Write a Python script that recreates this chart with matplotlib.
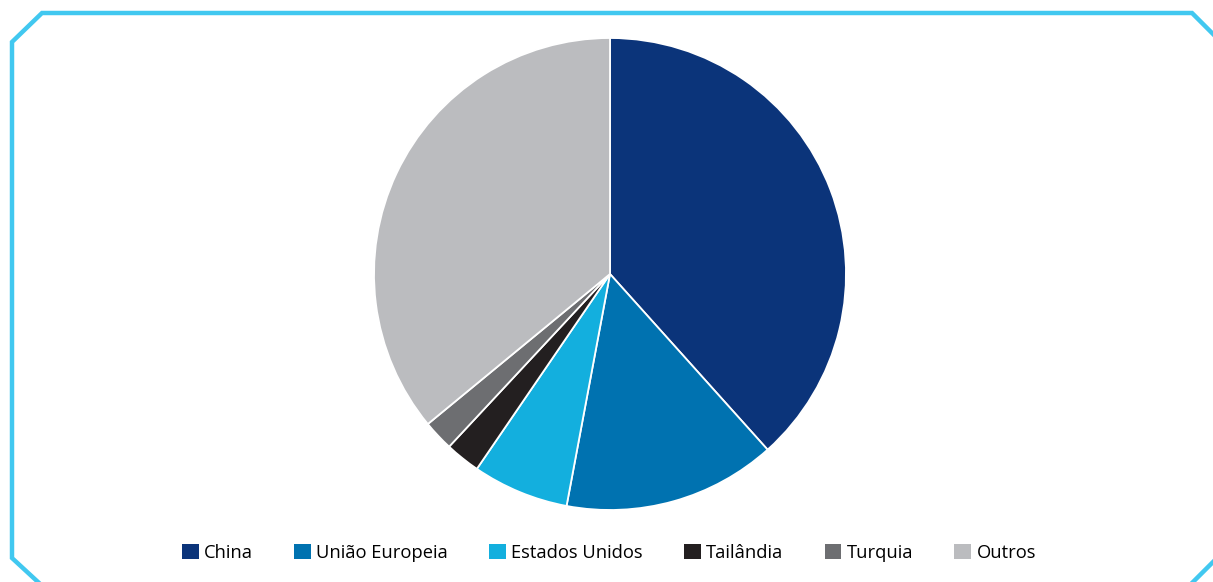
import matplotlib.pyplot as plt
from matplotlib.lines import Line2D
from matplotlib.patches import Patch

# share of each origin (%)
labels = ['China', 'União Europeia', 'Estados Unidos', 'Tailândia', 'Turquia', 'Outros']
values = [38.4, 14.6, 6.6, 2.4, 2.1, 36.0]
colors = ['#0B347A', '#0072B0', '#13AFDE', '#231F20', '#6D6E71', '#BBBCBF']

W, H = 1213, 582
fig = plt.figure(figsize=(W / 100, H / 100), dpi=100)
fig.patch.set_facecolor('white')

# cyan frame with cut corners (runs off the bottom/right edge)
bx = [38, 12, 12, 42, 1192, 1240]
by = [582, 558, 42, 13, 13, 61]
fig.add_artist(Line2D([x / W for x in bx], [1 - y / H for y in by],
                      color='#41C8F0', lw=3.2, solid_joinstyle='miter',
                      transform=fig.transFigure))
fig.add_artist(Line2D([1193 / W, 1240 / W], [1 - 582 / H, 1 - 535 / H],
                      color='#41C8F0', lw=3.2, transform=fig.transFigure))

# pie centred at (610, 274) px, radius 236 px
cx, cy, r = 610, 274, 236
ax = fig.add_axes([(cx - r) / W, 1 - (cy + r) / H, 2 * r / W, 2 * r / H])
ax.pie(values, colors=colors, startangle=90, counterclock=False, radius=1,
       wedgeprops=dict(edgecolor='white', linewidth=1.3))
ax.set_xlim(-1, 1)
ax.set_ylim(-1, 1)
ax.set_aspect('equal')
ax.axis('off')

handles = [Patch(facecolor=c, edgecolor='none') for c in colors]
fig.legend(handles, labels, loc='center', bbox_to_anchor=(609 / W, 1 - 553 / H),
           ncol=6, frameon=False, handlelength=0.9, handleheight=0.9,
           handletextpad=0.3, columnspacing=2.25, prop={'family': 'Open Sans', 'size': 13.2})

fig.savefig('out.png', dpi=100)
